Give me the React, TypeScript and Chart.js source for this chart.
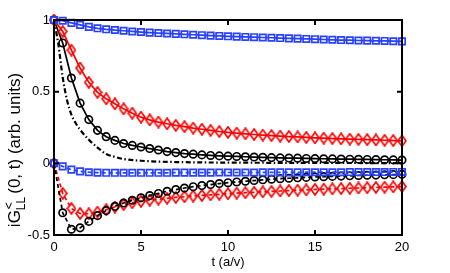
import React, { useEffect, useRef } from "react";
import { Chart, registerables } from "chart.js";

Chart.register(...registerables);

// time axis (a/v)
const T = [0, 0.5, 1, 1.5, 2, 2.5, 3, 3.5, 4, 4.5, 5, 5.5, 6, 6.5, 7, 7.5, 8, 8.5, 9, 9.5, 10,
  10.5, 11, 11.5, 12, 12.5, 13, 13.5, 14, 14.5, 15, 15.5, 16, 16.5, 17, 17.5, 18, 18.5, 19, 19.5, 20];

const blueUpper = [1, 0.995, 0.98, 0.966, 0.952, 0.942, 0.935, 0.93, 0.925, 0.92, 0.916, 0.912, 0.909,
  0.906, 0.903, 0.9, 0.897, 0.894, 0.891, 0.889, 0.886, 0.884, 0.882, 0.88, 0.878, 0.876, 0.874, 0.872,
  0.87, 0.868, 0.866, 0.864, 0.862, 0.86, 0.859, 0.857, 0.856, 0.855, 0.854, 0.852, 0.851];

const redUpper = [1, 0.92, 0.79, 0.665, 0.565, 0.495, 0.45, 0.415, 0.38, 0.35, 0.322, 0.303, 0.288,
  0.276, 0.265, 0.256, 0.246, 0.238, 0.23, 0.222, 0.216, 0.211, 0.206, 0.201, 0.197, 0.194, 0.19, 0.187,
  0.184, 0.181, 0.178, 0.176, 0.173, 0.171, 0.169, 0.167, 0.165, 0.163, 0.161, 0.159, 0.157];

const blackUpper = [1, 0.84, 0.595, 0.42, 0.305, 0.23, 0.186, 0.16, 0.138, 0.125, 0.114, 0.103, 0.093,
  0.082, 0.075, 0.068, 0.064, 0.059, 0.055, 0.052, 0.05, 0.048, 0.046, 0.044, 0.042, 0.04, 0.038, 0.037,
  0.036, 0.034, 0.033, 0.032, 0.031, 0.03, 0.029, 0.028, 0.027, 0.026, 0.025, 0.024, 0.023];

const blueLower = [0, -0.021, -0.044, -0.056, -0.062, -0.065, -0.066, -0.066, -0.066, -0.066, -0.066,
  -0.066, -0.066, -0.066, -0.065, -0.065, -0.065, -0.065, -0.065, -0.064, -0.064, -0.064, -0.064, -0.064,
  -0.063, -0.063, -0.063, -0.063, -0.063, -0.062, -0.062, -0.062, -0.062, -0.062, -0.061, -0.061, -0.061,
  -0.061, -0.061, -0.06, -0.06];

const blackLower = [0, -0.345, -0.46, -0.45, -0.405, -0.365, -0.33, -0.3, -0.277, -0.258, -0.24, -0.225,
  -0.21, -0.195, -0.183, -0.172, -0.163, -0.155, -0.148, -0.141, -0.135, -0.13, -0.125, -0.12, -0.115,
  -0.111, -0.107, -0.104, -0.101, -0.098, -0.095, -0.093, -0.091, -0.089, -0.087, -0.085, -0.083, -0.082,
  -0.08, -0.079, -0.077];

const redLower = [0, -0.21, -0.315, -0.35, -0.352, -0.34, -0.323, -0.305, -0.288, -0.275, -0.265, -0.257,
  -0.25, -0.244, -0.238, -0.233, -0.228, -0.224, -0.22, -0.216, -0.212, -0.208, -0.205, -0.202, -0.199,
  -0.196, -0.193, -0.19, -0.187, -0.185, -0.182, -0.18, -0.178, -0.176, -0.174, -0.172, -0.17, -0.168,
  -0.166, -0.164, -0.162];

const dashDotT = [0, 0.25, 0.5, 0.75, 1, 1.25, 1.5, 2, 2.5, 3, 3.5, 4, 5, 6, 7, 8, 10, 12, 14, 16, 18, 20];
const dashDotY = [1, 0.83, 0.6, 0.44, 0.34, 0.28, 0.235, 0.165, 0.11, 0.065, 0.045, 0.03, 0.018, 0.012,
  0.009, 0.007, 0.005, 0.004, 0.003, 0.003, 0.002, 0.002];

const xTicks = [0, 5, 10, 15, 20];
const yTicks = [-0.5, 0, 0.5, 1];
const xTitle = "t (a/v)";

const BLUE = "rgb(40,64,255)";
const RED = "rgb(255,0,0)";
const BLACK = "rgb(0,0,0)";
const FONT = '"Liberation Sans", Arial, sans-serif';

function makeDiamond(color: string): HTMLCanvasElement {
  const c = document.createElement("canvas");
  c.width = 10;
  c.height = 13;
  const g = c.getContext("2d")!;
  g.strokeStyle = color;
  g.lineWidth = 1.7;
  g.beginPath();
  g.moveTo(5, 1);
  g.lineTo(9, 6.5);
  g.lineTo(5, 12);
  g.lineTo(1, 6.5);
  g.closePath();
  g.stroke();
  return c;
}

function pts(xs: number[], ys: number[]) {
  return xs.map((x, i) => ({ x, y: ys[i] }));
}

const framePlugin = {
  id: "frame",
  afterDatasetsDraw(chart: any) {
    const { ctx, chartArea: a, scales } = chart;
    const xs = scales.x;
    const ys = scales.y;
    ctx.save();
    ctx.strokeStyle = "#000";
    ctx.lineWidth = 2;
    ctx.strokeRect(a.left, a.top, a.right - a.left, a.bottom - a.top);
    const tl = 5;
    ctx.beginPath();
    xTicks.forEach((v) => {
      const px = xs.getPixelForValue(v);
      ctx.moveTo(px, a.bottom);
      ctx.lineTo(px, a.bottom - tl);
      ctx.moveTo(px, a.top);
      ctx.lineTo(px, a.top + tl);
    });
    yTicks.forEach((v) => {
      const py = ys.getPixelForValue(v);
      ctx.moveTo(a.left, py);
      ctx.lineTo(a.left + tl, py);
      ctx.moveTo(a.right, py);
      ctx.lineTo(a.right - tl, py);
    });
    ctx.stroke();

    // x title
    ctx.fillStyle = "#000";
    ctx.font = "13px " + FONT;
    ctx.textAlign = "center";
    ctx.textBaseline = "middle";
    ctx.fillText(xTitle, (a.left + a.right) / 2, 262);

    // y title with super/subscript
    const big = "17px " + FONT;
    const small = "12px " + FONT;
    ctx.font = big;
    const w1 = ctx.measureText("iG").width;
    const rest = "(0, t) (arb. units)";
    const w3 = ctx.measureText(rest).width;
    ctx.font = small;
    const wSup = ctx.measureText("<").width;
    const wSub = ctx.measureText("LL").width;
    const wMid = Math.max(wSup, wSub) + 3;
    const total = w1 + wMid + w3;
    const cx = 20;
    const cy = 150;
    ctx.translate(cx, cy);
    ctx.rotate(-Math.PI / 2);
    ctx.textAlign = "left";
    ctx.textBaseline = "alphabetic";
    let u = -total / 2;
    ctx.font = big;
    ctx.fillText("iG", u, 0);
    u += w1;
    ctx.font = small;
    ctx.fillText("<", u + 1, -7);
    ctx.fillText("LL", u, 5);
    u += wMid;
    ctx.font = big;
    ctx.fillText(rest, u, 0);
    ctx.restore();
  },
};

export default function App() {
  const ref = useRef<HTMLCanvasElement | null>(null);
  useEffect(() => {
    if (!ref.current) return;
    const redDiamond = makeDiamond(RED);
    const common = { clip: false as any, borderWidth: 1.7, pointBorderWidth: 1.7, pointBackgroundColor: "rgba(0,0,0,0)", tension: 0 };
    const chart = new Chart(ref.current, {
      type: "line",
      data: {
        datasets: [
          { ...common, data: pts(T, blueUpper), borderColor: BLUE, pointBorderColor: BLUE, pointStyle: "rect", pointRadius: 4.5 },
          { ...common, data: pts(T, redUpper), borderColor: RED, pointStyle: redDiamond as any, pointRadius: 5 },
          { ...common, data: pts(T, blackUpper), borderColor: BLACK, pointBorderColor: BLACK, pointStyle: "circle", pointRadius: 3.7 },
          { ...common, data: pts(dashDotT, dashDotY), borderColor: BLACK, borderWidth: 2.2, pointRadius: 0, borderDash: [5, 2.5, 1.5, 2.5], cubicInterpolationMode: "monotone" },
          { ...common, data: pts(T, blueLower), borderColor: BLUE, pointBorderColor: BLUE, pointStyle: "rect", pointRadius: 4.5, borderDash: [4, 3] },
          { ...common, data: pts(T, blackLower), borderColor: BLACK, pointBorderColor: BLACK, pointStyle: "circle", pointRadius: 3.7, borderDash: [4, 3] },
          { ...common, data: pts(T, redLower), borderColor: RED, pointStyle: redDiamond as any, pointRadius: 5, borderDash: [4, 3] },
        ],
      },
      options: {
        animation: false,
        responsive: false,
        layout: { padding: { top: 20, right: 48, left: 0, bottom: 0 } },
        plugins: { legend: { display: false }, tooltip: { enabled: false } },
        scales: {
          x: {
            type: "linear",
            min: 0,
            max: 20,
            border: { display: false },
            grid: { display: false, drawTicks: false },
            ticks: {
              stepSize: 5,
              padding: 5,
              color: "#000",
              maxRotation: 0,
              autoSkip: false,
              font: { family: FONT, size: 13 },
            },
            afterFit: (s: any) => {
              s.height = 38;
            },
          },
          y: {
            type: "linear",
            min: -0.5,
            max: 1,
            border: { display: false },
            grid: { display: false, drawTicks: false },
            ticks: {
              stepSize: 0.5,
              padding: 4,
              color: "#000",
              font: { family: FONT, size: 13 },
              callback: (v: any) => String(v),
            },
            afterFit: (s: any) => {
              s.width = 54;
            },
          },
        },
      },
      plugins: [framePlugin],
    });
    return () => chart.destroy();
  }, []);
  return (
    <div style={{ position: "absolute", left: 0, top: 0, width: 450, height: 273, background: "#fff" }}>
      <canvas ref={ref} width={450} height={273} style={{ width: 450, height: 273 }} />
    </div>
  );
}
